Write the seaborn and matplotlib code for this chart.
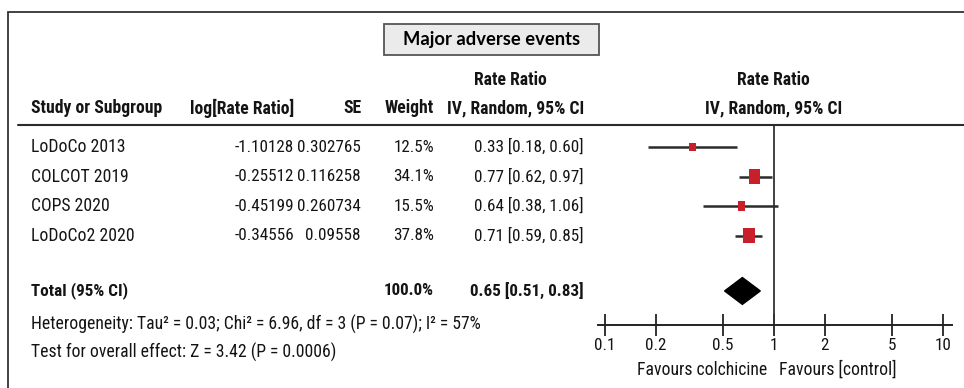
import numpy as np
import pandas as pd
import matplotlib
matplotlib.use("Agg")
import matplotlib.pyplot as plt
import matplotlib.transforms as mtransforms
from matplotlib.patches import Rectangle
from matplotlib.lines import Line2D
from matplotlib.path import Path
from matplotlib import font_manager
import seaborn as sns

# ---------- data ----------
studies = ["LoDoCo 2013", "COLCOT 2019", "COPS 2020", "LoDoCo2 2020"]
log_rr = [-1.10128, -0.25512, -0.45199, -0.34556]
se = [0.302765, 0.116258, 0.260734, 0.09558]
weight = [12.5, 34.1, 15.5, 37.8]
rr = [0.33, 0.77, 0.64, 0.71]
ci_lo = [0.18, 0.62, 0.38, 0.59]
ci_hi = [0.60, 0.97, 1.06, 0.85]

total_weight = 100.0
total_rr = 0.65
total_lo = 0.51
total_hi = 0.83

xticks = [0.1, 0.2, 0.5, 1, 2, 5, 10]
xtick_labels = ["0.1", "0.2", "0.5", "1", "2", "5", "10"]

heterogeneity = "Heterogeneity: Tau\u00b2 = 0.03; Chi\u00b2 = 6.96, df = 3 (P = 0.07); I\u00b2 = 57%"
overall = "Test for overall effect: Z = 3.42 (P = 0.0006)"

df = pd.DataFrame({"study": studies, "log_rr": log_rr, "se": se, "weight": weight,
                   "rr": rr, "lo": ci_lo, "hi": ci_hi})
df["row"] = np.arange(len(df))
total_row = 4.88

# ---------- style ----------
sns.set_theme(style="white")
names = {f.name for f in font_manager.fontManager.ttflist}
narrow = None
for cand in ["Liberation Sans Narrow", "Roboto Condensed", "Open Sans Condensed"]:
    if cand in names:
        narrow = cand
        break
if narrow is None:
    narrow, fs = "Liberation Sans", 11.0
else:
    fs = 12.3
fs_word = fs * 1.03
plt.rcParams["font.family"] = [narrow, "DejaVu Sans"]
TXT = "#141414"

W, H = 964, 388
fig = plt.figure(figsize=(W / 100, H / 100), dpi=100)


def fx(x):
    return x / W


def fy(y):
    return 1 - y / H


# forest axes: x 598..952 px, y 125..325 px
ax = fig.add_axes([fx(598), fy(325), fx(952 - 598), (325 - 125) / H])
ax.set_facecolor("none")
ax.set_xscale("log")
ax.set_xlim(10 ** -1.0414, 10 ** 1.0533)
ax.set_ylim(6.034, -0.746)

# CI lines
ax.hlines(df["row"], df["lo"], df["hi"], color="#2b2b2b", lw=1.8, zorder=2)
# squares sized by weight
rect = Path([(-0.37, -0.5), (0.37, -0.5), (0.37, 0.5), (-0.37, 0.5), (-0.37, -0.5)],
            [Path.MOVETO, Path.LINETO, Path.LINETO, Path.LINETO, Path.CLOSEPOLY])
size_map = {w: 3.3 * w for w in weight}
sns.scatterplot(data=df, x="rr", y="row", size="weight", sizes=size_map, marker=rect,
                color="#c8202a", edgecolor="none", legend=False, ax=ax, zorder=3)
# pooled diamond
h = 0.455
ax.fill([total_lo, total_rr, total_hi, total_rr],
        [total_row, total_row - h, total_row, total_row + h], color="black", zorder=3)
# line of no effect
ax.axvline(1, color="#333333", lw=1.3, zorder=1)

for s in ["top", "left", "right"]:
    ax.spines[s].set_visible(False)
ax.spines["bottom"].set_color("#222222")
ax.spines["bottom"].set_linewidth(1.4)
ax.set_xticks(xticks)
ax.set_xticklabels(xtick_labels, fontsize=fs, color=TXT)
ax.minorticks_off()
ax.set_yticks([])
ax.set_xlabel("")
ax.set_ylabel("")
ax.tick_params(axis="x", bottom=True, direction="inout", length=16, width=1.3,
               color="#222222", pad=1)

# ---------- table text ----------
tr = mtransforms.blended_transform_factory(fig.transFigure, ax.transData)
for _, r in df.iterrows():
    y = r["row"]
    ax.text(fx(31), y, r["study"], transform=tr, ha="left", va="center", fontsize=fs_word, color=TXT)
    ax.text(fx(294), y, str(r["log_rr"]), transform=tr, ha="right", va="center", fontsize=fs, color=TXT)
    ax.text(fx(361), y, str(r["se"]), transform=tr, ha="right", va="center", fontsize=fs, color=TXT)
    ax.text(fx(434), y, f"{r['weight']:.1f}%", transform=tr, ha="right", va="center", fontsize=fs, color=TXT)
    ax.text(fx(584), y, f"{r['rr']:.2f} [{r['lo']:.2f}, {r['hi']:.2f}]", transform=tr,
            ha="right", va="center", fontsize=fs, color=TXT)

ax.text(fx(31), total_row, "Total (95% CI)", transform=tr, ha="left", va="center",
        fontsize=fs, fontweight="bold", color=TXT)
ax.text(fx(434), total_row, f"{total_weight:.1f}%", transform=tr, ha="right", va="center",
        fontsize=fs, fontweight="bold", color=TXT)
ax.text(fx(584), total_row, f"{total_rr:.2f} [{total_lo:.2f}, {total_hi:.2f}]", transform=tr,
        ha="right", va="center", fontsize=fs, fontweight="bold", color=TXT)

fig.text(fx(31), fy(324), heterogeneity, ha="left", va="center", fontsize=fs_word, color=TXT)
fig.text(fx(31), fy(352), overall, ha="left", va="center", fontsize=fs_word, color=TXT)

# headers
hdr = dict(va="center", fontsize=fs + 0.4, fontweight="bold", color=TXT)
fig.text(fx(31), fy(108), "Study or Subgroup", ha="left", **hdr)
fig.text(fx(294), fy(108), "log[Rate Ratio]", ha="right", **hdr)
fig.text(fx(361), fy(108), "SE", ha="right", **hdr)
fig.text(fx(434), fy(108), "Weight", ha="right", **hdr)
fig.text(fx(510), fy(80), "Rate Ratio", ha="center", **hdr)
fig.text(fx(584), fy(108), "IV, Random, 95% CI", ha="right", **hdr)
fig.text(fx(773), fy(80), "Rate Ratio", ha="center", **hdr)
fig.text(fx(774), fy(108), "IV, Random, 95% CI", ha="center", **hdr)

fig.text(fx(702), fy(370), "Favours colchicine", ha="center", va="center", fontsize=fs_word, color=TXT)
fig.text(fx(838), fy(370), "Favours [control]", ha="center", va="center", fontsize=fs_word, color=TXT)

# header rule and outer frame
fig.add_artist(Line2D([fx(18), fx(964)], [fy(125), fy(125)], color="#2b2b2b", lw=1.5))
fig.add_artist(Rectangle((fx(8), fy(400)), fx(970 - 8), (400 - 12) / H, fill=False,
                         edgecolor="#333333", lw=1.3))

# title box
fig.add_artist(Rectangle((fx(384), fy(55)), fx(599 - 384), (55 - 24) / H,
                         facecolor="#ebebeb", edgecolor="#555555", lw=1.3))
fig.text(fx(491.5), fy(40), "Major adverse events", ha="center", va="center",
         fontsize=13.2, fontweight="bold", family=["Lato", "DejaVu Sans"], color="black")

fig.savefig("out.png", dpi=100)
